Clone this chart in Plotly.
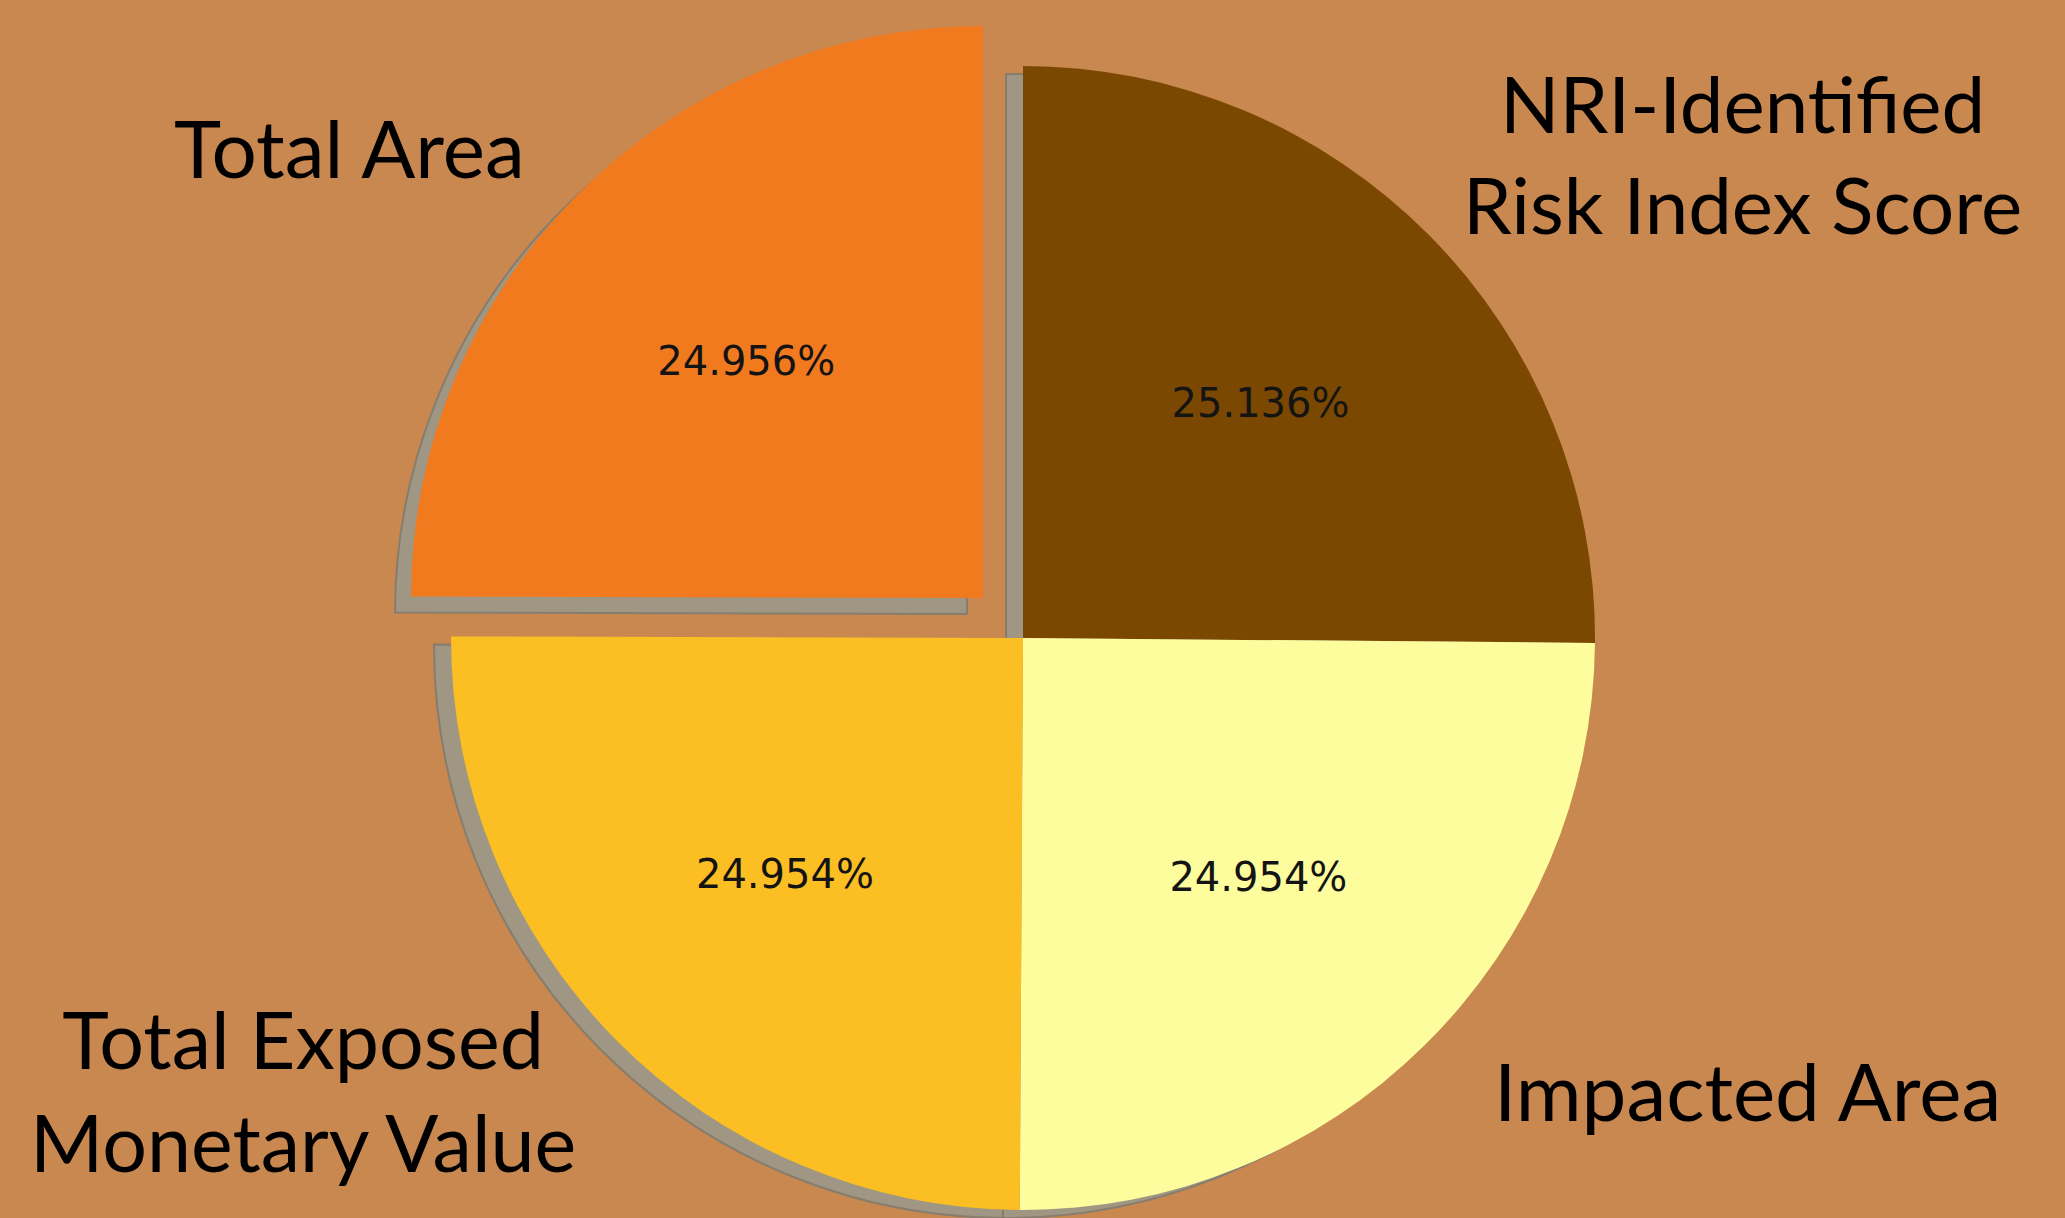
import plotly.graph_objects as go

# ---- data ----
categories = ["NRI-Identified Risk Index Score", "Impacted Area",
              "Total Exposed Monetary Value", "Total Area"]
label_text = ["NRI-Identified<br>Risk Index Score", "Impacted Area",
              "Total Exposed<br>Monetary Value", "Total Area"]
values = [25.136, 24.954, 24.954, 24.956]
colors = ["#7a4800", "#fdfd9e", "#fbbf24", "#f27a1e"]
pulled = [False, False, False, True]

W, H = 2065, 1218
BG = "#c98850"
SHADOW = "#9f9683"
SHADOW_EDGE = "#877d6e"
CLEAR = "rgba(0,0,0,0)"


def dom(cx, cy, r):
    """domain (paper) for a pie centred at pixel (cx, cy) of radius r"""
    x0, x1 = (cx - r) / W, (cx + r) / W
    y0, y1 = 1 - (cy + r) / H, 1 - (cy - r) / H
    return dict(x=[max(0, x0), min(1, x1)], y=[max(0, y0), min(1, y1)])


R = 572
main_c = (1023, 638)
pull_c = (983, 598)
main_sh = (1006, 646)
pull_sh = (967, 614)

pct = "%{percent:.3%}"
common = dict(labels=categories, values=values, sort=False, direction="clockwise",
              rotation=0, hoverinfo="skip", showlegend=False,
              textposition="inside", insidetextorientation="horizontal",
              textfont=dict(family="DejaVu Sans", size=40, color="#141414"))

fig = go.Figure()
# shadows
fig.add_trace(go.Pie(**common, domain=dom(*main_sh, R),
                     texttemplate=["" for _ in categories],
                     marker=dict(colors=[CLEAR if p else SHADOW for p in pulled],
                                 line=dict(color=[CLEAR if p else SHADOW_EDGE for p in pulled],
                                           width=2))))
fig.add_trace(go.Pie(**common, domain=dom(*pull_sh, R),
                     texttemplate=["" for _ in categories],
                     marker=dict(colors=[SHADOW if p else CLEAR for p in pulled],
                                 line=dict(color=[SHADOW_EDGE if p else CLEAR for p in pulled],
                                           width=2))))
# main pie (non-pulled slices)
fig.add_trace(go.Pie(**common, domain=dom(*main_c, R),
                     texttemplate=["" if p else pct for p in pulled],
                     marker=dict(colors=[CLEAR if p else c for p, c in zip(pulled, colors)],
                                 line=dict(width=0))))
# pulled slice
fig.add_trace(go.Pie(**common, domain=dom(*pull_c, R),
                     texttemplate=[pct if p else "" for p in pulled],
                     marker=dict(colors=[c if p else CLEAR for p, c in zip(pulled, colors)],
                                 line=dict(width=0))))

label_pos = [(1742, 153), (1747, 1090), (303, 1090), (349, 147)]
label_size = [78, 80, 79, 80]
for txt, (px, py), fs in zip(label_text, label_pos, label_size):
    fig.add_annotation(text=txt, x=px / W, y=1 - py / H, xref="paper", yref="paper",
                       xanchor="center", yanchor="middle", showarrow=False,
                       font=dict(family="Lato", size=fs, color="#000000"))

fig.update_layout(width=W, height=H, margin=dict(l=0, r=0, t=0, b=0),
                  paper_bgcolor=BG, plot_bgcolor=BG)
fig.write_html("out.html", config={"displayModeBar": False},
               post_script="document.body.style.margin='0';"
                           "document.body.style.background='" + BG + "';")
